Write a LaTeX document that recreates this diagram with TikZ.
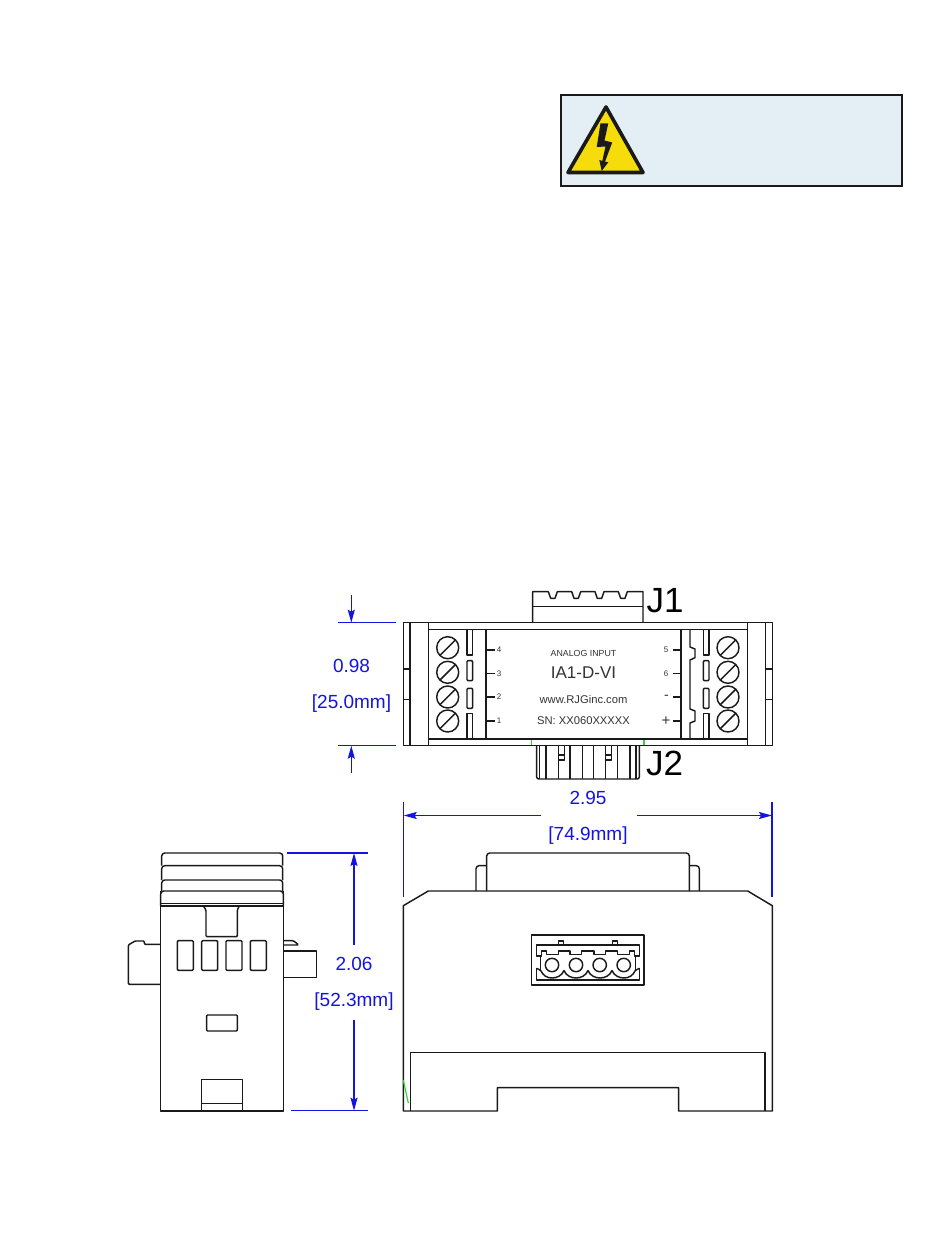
\documentclass[tikz,border=0pt]{standalone}
\usepackage{fontspec}
\setmainfont{Liberation Sans}
\usetikzlibrary{arrows.meta}
\definecolor{dimblue}{HTML}{1414E0}
\definecolor{panelblue}{HTML}{E3EEF5}
\definecolor{warnyellow}{HTML}{F5DC0A}
\definecolor{markgreen}{HTML}{33D633}
\definecolor{inkdark}{HTML}{1A1A1A}
\newcommand{\fsz}[1]{\fontsize{#1}{#1}\selectfont}
\tikzset{
  part/.style={draw=inkdark,line width=1.45pt,line join=round},
  dimline/.style={draw=dimblue,line width=1.2pt},
  dimarrow/.style={dimline,-{Stealth[length=13pt,width=7pt,inset=2pt]}},
  dimtext/.style={text=dimblue,inner sep=0pt,font=\fsz{19}},
  plate/.style={text=black!80,inner sep=0pt},
  jlabel/.style={text=black,inner sep=0pt,font=\fsz{35}},
  greenmark/.style={draw=markgreen,line width=1.2pt}
}
\begin{document}
\begin{tikzpicture}[x=1pt,y=-1pt]
\useasboundingbox (0,0) rectangle (950,1241);
\fill[white] (0,0) rectangle (950,1241);

% warning panel
\draw[fill=panelblue,draw=inkdark,line width=2pt] (561,95) rectangle (902,186);
\draw[fill=warnyellow,draw=inkdark,line width=3.6pt,line join=round] (606,107) -- (568,172.5) -- (643,172.5) -- cycle;
\fill[inkdark] (600.5,123.3) -- (608.3,123.3) -- (604.5,140.5) -- (612.2,142.5) -- (605,161.7) -- (608.3,162.3) -- (601.7,171) -- (599.3,160) -- (602.3,161) -- (605.5,146.5) -- (596.7,147) -- cycle;

% ---- top view ----
\draw[part] (403.3,622.7) rectangle (772.3,745.7);
\foreach \x in {410,428.3,747.3,765.7} \draw[part] (\x,622.7) -- (\x,745.7);
\draw[part] (428.3,629.3) -- (747.3,629.3);
\draw[part] (428.3,739) -- (747.3,739);
\foreach \y in {669,699.7} {
  \draw[part] (403.3,\y) -- (410,\y);
  \draw[part] (765.7,\y) -- (772.3,\y);
}
\draw[part] (486,629.3) -- (486,739);
\draw[part] (681,629.3) -- (681,739);
% screws
\foreach \y in {647.7,672.3,697,721} \foreach \x in {447.7,728} {
  \draw[part] (\x,\y) circle[radius=11pt];
  \draw[part] (\x-7.8,\y+7.8) -- (\x+7.8,\y-7.8);
}
% slots
\foreach \x/\w in {467/5.7,703.3/5.7} {
  \draw[part] (\x,629.3) -- (\x,655) -- (\x+\w,655) -- (\x+\w,629.3);
  \draw[part,rounded corners=1pt] (\x,660.7) rectangle (\x+\w,680.7);
  \draw[part,rounded corners=1pt] (\x,688.3) rectangle (\x+\w,708.3);
  \draw[part] (\x,739) -- (\x,713.3) -- (\x+\w,713.3) -- (\x+\w,739);
}
% right inner jog
\draw[part] (690,629.3) -- (690,647) -- (695,649) -- (695,657.7) -- (690,660) -- (690,709) -- (695,711) -- (695,721) -- (690,723) -- (690,739);
% pin ticks
\foreach \y in {650,673.3,697,721} {
  \draw[part] (486,\y) -- (494.5,\y);
  \draw[part] (673,\y) -- (681,\y);
}
\node[plate,font=\fsz{8}] (pinfour) at (499,650) {4};
\node[plate,font=\fsz{8}] (pinthree) at (499,673.5) {3};
\node[plate,font=\fsz{8}] (pintwo) at (499,697) {2};
\node[plate,font=\fsz{8}] (pinone) at (499,721) {1};
\node[plate,font=\fsz{8}] (pinfive) at (666,650) {5};
\node[plate,font=\fsz{8}] (pinsix) at (666,673.5) {6};
\node[plate,font=\fsz{14}] (pinminus) at (666.5,697) {-};
\node[plate,font=\fsz{15}] (pinplus) at (666,721) {+};
\node[plate,font=\fsz{8.8}] (pltitle) at (583.5,653.5) {ANALOG INPUT};
\node[plate,font=\fsz{17}] (plmodel) at (583.5,673) {IA1-D-VI};
\node[plate,font=\fsz{11.2}] (plweb) at (583.5,699.5) {www.RJGinc.com};
\node[plate,font=\fsz{11.2}] (plserial) at (583.5,721) {SN: XX060XXXXX};

% J1
\draw[part] (532.7,622.7) -- (532.7,591.7)
  -- (548.3,591.7) -- (550.7,598.3) -- (555,598.3) -- (557.3,591.7)
  -- (571.7,591.7) -- (574,598.3) -- (578.3,598.3) -- (580.7,591.7)
  -- (595,591.7) -- (597.3,598.3) -- (601.7,598.3) -- (604,591.7)
  -- (618.3,591.7) -- (620.7,598.3) -- (625,598.3) -- (627.3,591.7)
  -- (643,591.7) -- (643,622.7);
\draw[part] (532.7,606.7) -- (643,606.7);
\node[jlabel,anchor=base west] (jone) at (646.5,612) {J1};

% J2
\draw[part,rounded corners=2pt] (536.7,745.7) -- (536.7,779) -- (639.3,779) -- (639.3,745.7);
\foreach \x in {539.3,546,558.3,570,582.3,593.3,605.7,617.3,630,636}
  \draw[part] (\x,745.7) -- (\x,779);
\foreach \x in {558.3,605.7} {
  \draw[part] (\x+6,745.7) -- (\x+6,760) -- (\x,760);
  \draw[part] (\x,755) -- (\x+6,755);
}
\draw[greenmark] (531.7,739.8) -- (531.7,745);
\draw[greenmark] (644,739.8) -- (644,745);
\node[jlabel,anchor=base west] (jtwo) at (646,775.7) {J2};

% ---- side view ----
\draw[part] (160.7,891) -- (160.7,1111) -- (283.3,1111) -- (283.3,891);
\draw[part,rounded corners=3pt] (160.7,906) -- (160.7,891) -- (283.3,891) -- (283.3,906);
\draw[part,rounded corners=3pt] (161.7,891) -- (161.7,880) -- (282.7,880) -- (282.7,891);
\draw[part,rounded corners=3pt] (161.7,880) -- (161.7,865.7) -- (282.7,865.7) -- (282.7,880);
\draw[part,rounded corners=3pt] (161.7,865.7) -- (161.7,853) -- (282.7,853) -- (282.7,865.7);
\draw[part] (160.7,903.3) -- (283.3,903.3);
\draw[part] (160.7,906) -- (283.3,906);
\draw[part,rounded corners=1pt] (203.3,906) -- (206,910) -- (206,936.7) -- (237.3,936.7) -- (237.3,910) -- (239.3,906);
\foreach \x in {177.3,201.7,226,250.3}
  \draw[part,rounded corners=1pt] (\x,940.7) rectangle (\x+16,970.3);
\draw[part,rounded corners=1pt] (206.7,1015) rectangle (237.3,1031);
\draw[part] (201.7,1111) -- (201.7,1079.7) -- (242.3,1079.7) -- (242.3,1111);
\draw[part] (201.7,1103.3) -- (242.3,1103.3);
\draw[part,rounded corners=1pt] (160.7,944.3) -- (144.3,944.3) -- (144.3,941) -- (135,941) -- (128.3,945) -- (128.3,984.3) -- (160.7,984.3);
\draw[part] (283.3,951) -- (316.7,951) -- (316.7,977.7) -- (283.3,977.7);
\draw[part,rounded corners=1pt] (283.3,940.7) -- (293.3,940.7) -- (297.7,944) -- (297.7,945) -- (283.3,945);

% ---- front view ----
\draw[part] (403.3,1111) -- (403.3,905.7) -- (428.3,891) -- (747.7,891) -- (772.3,905.7) -- (772.3,1111) -- (678.7,1111) -- (678.7,1087.7) -- (497.3,1087.7) -- (497.3,1111) -- cycle;
\draw[part] (410.7,1111) -- (410.7,1052.3) -- (765,1052.3) -- (765,1111);
\draw[part,rounded corners=3pt] (486.7,891) -- (486.7,853) -- (689.3,853) -- (689.3,891);
\draw[part,rounded corners=3pt] (476,891) -- (476,865.7) -- (486.7,865.7);
\draw[part,rounded corners=3pt] (689.3,865.7) -- (699.3,865.7) -- (699.3,891);
\draw[greenmark] (403.3,1080) -- (408.3,1103);
% connector in front view
\draw[part] (531.7,935) rectangle (644,985);
\draw[part] (536.7,956) -- (536.7,945) -- (639.3,945) -- (639.3,956) -- (634.3,956) -- (634.3,951) -- (629.3,951) -- (629.3,954.3) -- (617.3,954.3) -- (617.3,951) -- (605.7,951) -- (605.7,954.3) -- (594,954.3) -- (594,951) -- (581.7,951) -- (581.7,954.3) -- (570,954.3) -- (570,951) -- (558.3,951) -- (558.3,954.3) -- (546.7,954.3) -- (546.7,951) -- (541.7,951) -- (541.7,956) -- cycle;
\draw[part] (558.3,945) -- (558.3,941) -- (563.3,941) -- (563.3,945);
\draw[part] (612.3,945) -- (612.3,941) -- (617.3,941) -- (617.3,945);
\draw[part] (540.7,956) -- (540.7,970.5);
\draw[part] (635.3,956) -- (635.3,970.5);
\draw[part] (536.7,968.3) -- (536.7,980) -- (639.3,980) -- (639.3,968.3);
\draw[part] (536.7,968.3) -- (540.7,970.5) .. controls (543,975.5) and (547,978) .. (552,978) .. controls (557,978) and (562,975.5) .. (564,970.5)
  .. controls (566,975.5) and (571,978) .. (576,978) .. controls (581,978) and (586,975.5) .. (588,970.5)
  .. controls (590,975.5) and (595,978) .. (600,978) .. controls (605,978) and (610,975.5) .. (612,970.5)
  .. controls (614,975.5) and (619,978) .. (624,978) .. controls (629,978) and (633,975.5) .. (635.3,970.5) -- (639.3,968.3);
\foreach \x in {552,576,599.7,623.7} \draw[part] (\x,965) circle[radius=6.7pt];

% ---- dimensions ----
\draw[dimline] (337.7,622.7) -- (395.7,622.7);
\draw[dimline] (337.7,745.7) -- (395.7,745.7);
\coordinate (hightop) at (351.3,622.7);
\coordinate (highlow) at (351.3,745.7);
\coordinate (hightail) at (351.3,595);
\coordinate (lowtail) at (351.3,773);
\draw[dimarrow] (hightail) -- (hightop);
\draw[dimarrow] (lowtail) -- (highlow);
\node[dimtext] (dimA) at (351.5,666) {0.98};
\node[dimtext] (dimAmm) at (351.5,704) {[25.0mm]};

\coordinate (wleft) at (403.7,815.5);
\coordinate (wright) at (772,815.5);
\coordinate (wlefttail) at (541,815.5);
\coordinate (wrighttail) at (637,815.5);
\draw[dimline] (403.7,802) -- (403.7,897);
\draw[dimline] (772,802) -- (772,897);
\draw[dimarrow] (wlefttail) -- (wleft);
\draw[dimarrow] (wrighttail) -- (wright);
\node[dimtext] (dimB) at (588,798) {2.95};
\node[dimtext] (dimBmm) at (588,835.5) {[74.9mm]};

\draw[dimline] (287,853) -- (368,853);
\draw[dimline] (291,1110.7) -- (368,1110.7);
\coordinate (htop) at (354,853);
\coordinate (hlow) at (354,1110.7);
\coordinate (htoptail) at (354,945);
\coordinate (hlowtail) at (354,1020);
\draw[dimarrow] (htoptail) -- (htop);
\draw[dimarrow] (hlowtail) -- (hlow);
\node[dimtext] (dimC) at (354,964) {2.06};
\node[dimtext] (dimCmm) at (354,1002) {[52.3mm]};
\end{tikzpicture}
\end{document}
